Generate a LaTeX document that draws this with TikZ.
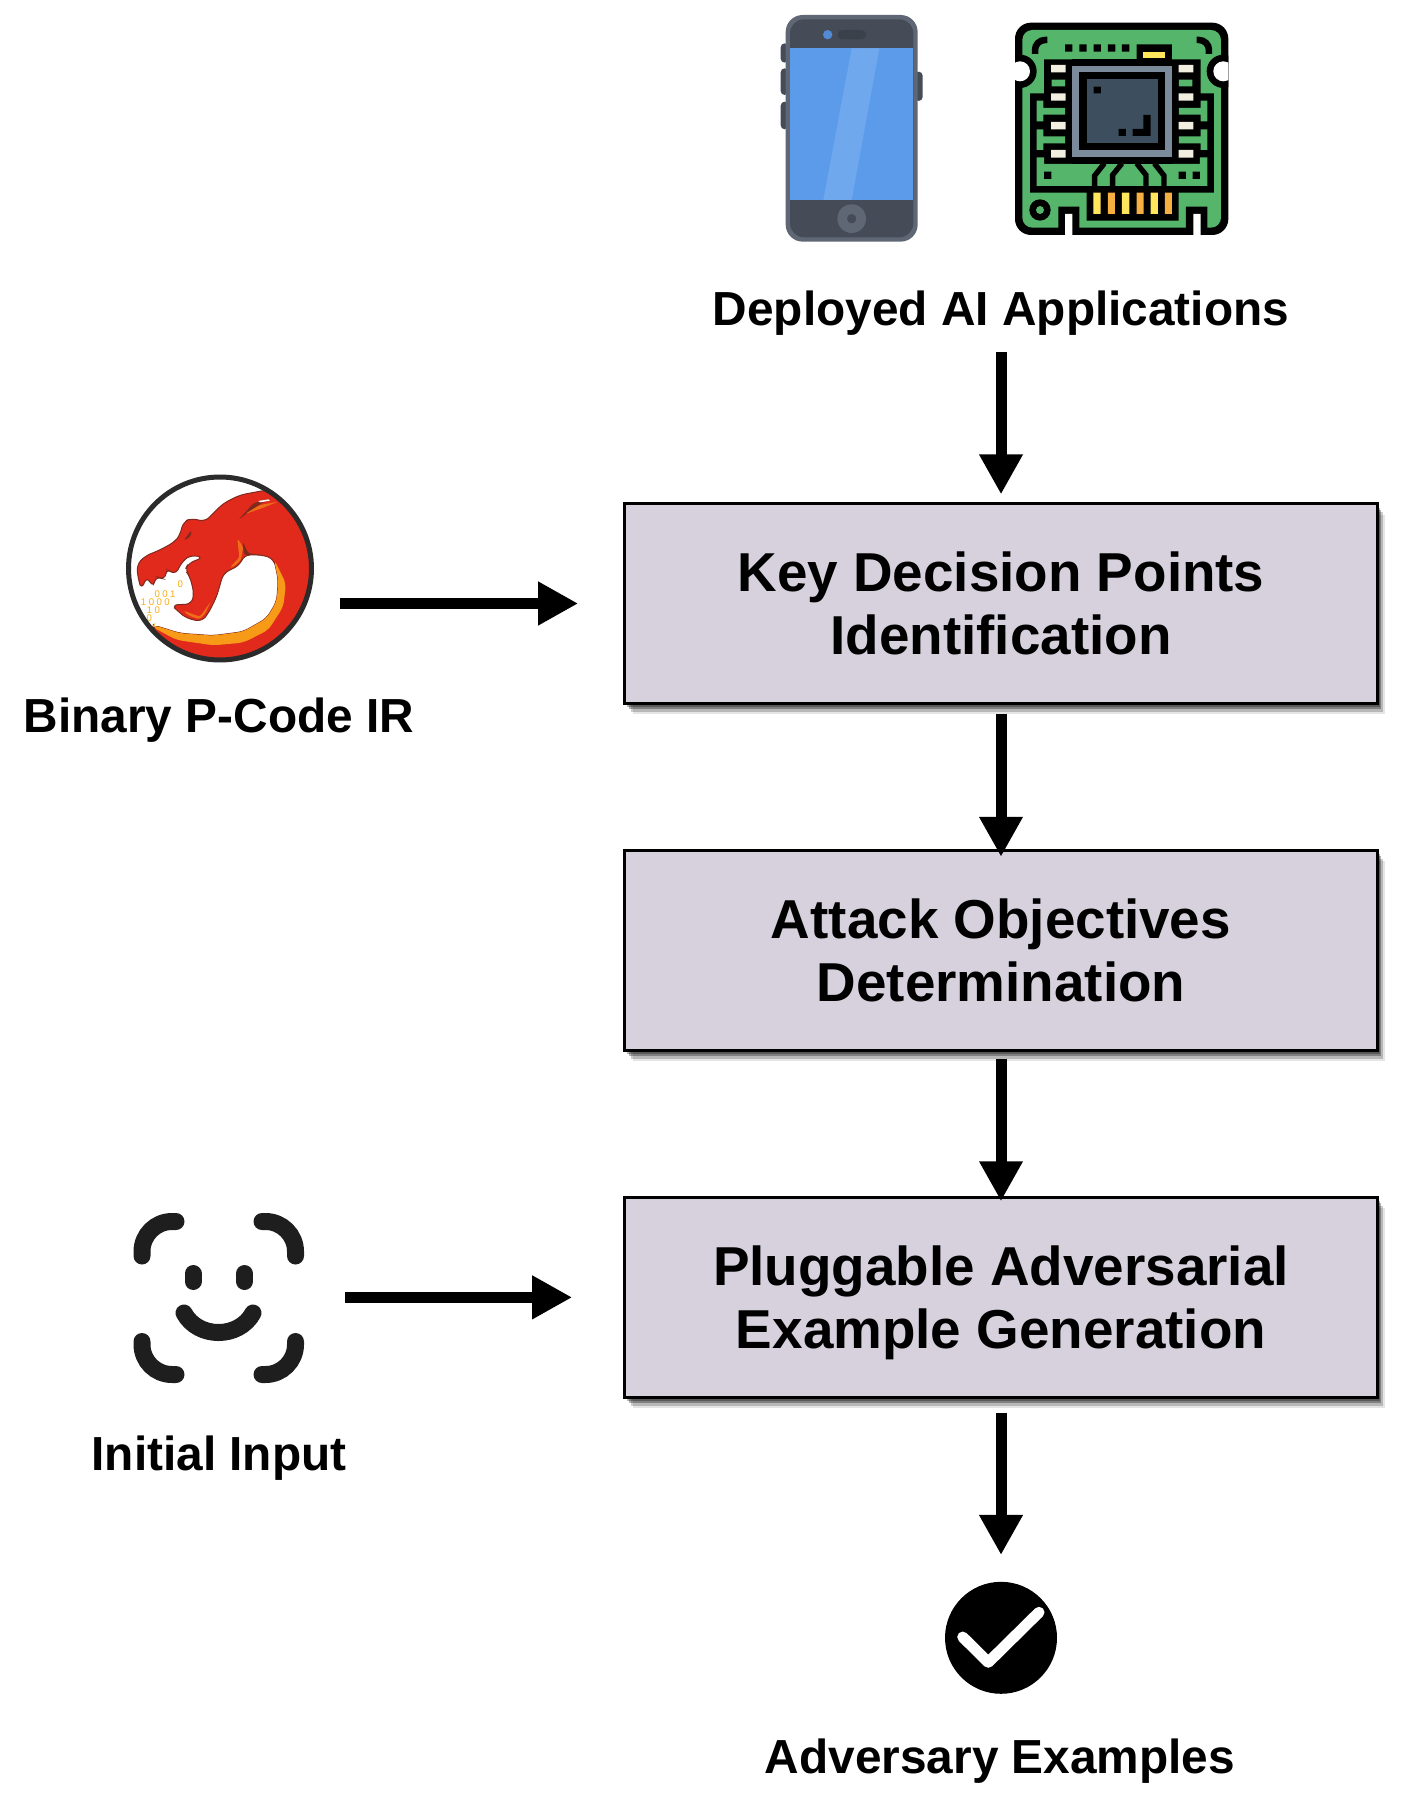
\documentclass[tikz,border=0pt]{standalone}
\usepackage{fontspec}
\setmainfont{Liberation Sans}
\usetikzlibrary{arrows.meta, shadows}
\definecolor{boxfill}{HTML}{D6D1DC}
\definecolor{phoneedge}{HTML}{5F6774}
\definecolor{phonedark}{HTML}{454C58}
\definecolor{phoneblue}{HTML}{5B9BEA}
\definecolor{phonelight}{HTML}{70A8EE}
\definecolor{chipgreen}{HTML}{55B56A}
\definecolor{chipslate}{HTML}{3D4F5F}
\definecolor{chipgrey}{HTML}{7C8B9C}
\definecolor{chippad}{HTML}{F2EFE0}
\definecolor{chipyellow}{HTML}{FFE65C}
\definecolor{chiporange}{HTML}{F5B041}
\definecolor{dragonred}{HTML}{E1291C}
\definecolor{dragonorange}{HTML}{F79A17}
\definecolor{dragondark}{HTML}{7E2A1C}
\definecolor{ringdark}{HTML}{2B2B2B}
\definecolor{facedark}{HTML}{1E1E1E}
\tikzstyle{process} = [rectangle, 
minimum width=15.05cm, 
minimum height=4cm,
inner sep=0pt,
align=center, 
text depth=0pt,
draw=black, 
line width=.066cm,
fill=boxfill,
font=\fontsize{31.2}{36}\selectfont\bfseries,
drop shadow={shadow xshift=.16cm, shadow yshift=-.22cm, opacity=.1, fill=black},
drop shadow={shadow xshift=.12cm, shadow yshift=-.17cm, opacity=.2, fill=black},
drop shadow={shadow xshift=.08cm, shadow yshift=-.12cm, opacity=.3, fill=black},
drop shadow={shadow xshift=.05cm, shadow yshift=-.08cm, opacity=.3, fill=black}]
\tikzstyle{tag} = [anchor=base, inner sep=0pt, font=\fontsize{27.2}{32}\selectfont\bfseries]
\tikzstyle{coord} = [coordinate]
\tikzstyle{arrow} = [line width=.22cm, -{Triangle[length=.8cm, width=.82cm]}]
\tikzstyle{ring} = [circle, minimum size=3.66cm, inner sep=0pt, draw=ringdark, line width=.1cm]
\tikzstyle{tick} = [circle, minimum size=2.24cm, inner sep=0pt, fill=black]
\tikzstyle{bits} = [inner sep=0pt, text=dragonorange!80!yellow, font=\fontsize{5.5}{6}\selectfont\addfontfeature{LetterSpace=25}]
\tikzstyle{face} = [line width=.34cm, line cap=round, draw=facedark, rounded corners=.6cm]
\begin{document}
\begin{tikzpicture}[x=0.02cm, y=-0.02cm, node distance=6.94cm]
	\useasboundingbox (0,0) rectangle (1416,1817);

	\begin{scope}[shift={(740,0)}, x=0.0066667cm, y=-0.0066667cm]
		\fill [phonedark, rounded corners=.08cm] (122,130) rectangle (145,188) (122,205) rectangle (145,285) (122,305) rectangle (145,388) (525,215) rectangle (548,303);
		\fill [phoneedge, rounded corners=.34cm] (137,45) rectangle (533,725);
		\fill [phonedark, rounded corners=.28cm] (150,58) rectangle (520,712);
		\fill [phoneblue] (150,145) rectangle (520,600);
		\fill [phonelight] (335,145) -- (418,145) -- (335,600) -- (250,600) -- cycle;
		\fill [phoneblue!90!black] (263,104) circle (14);
		\fill [black!15!phonedark, rounded corners=.09cm] (293,90) rectangle (378,118);
		\fill [phoneedge] (335,656) circle (43);
		\fill [phonedark] (335,656) circle (14);

		\fill [black, rounded corners=.32cm] (825,68) rectangle (1465,705);
		\fill [chipgreen, rounded corners=.2cm] (847,90) rectangle (1443,683);
		\begin{scope}
			\clip (825,68) rectangle (1465,705);
			\fill [black] (840,214) circle (50) (1450,214) circle (50);
			\fill [white] (840,214) circle (30) (1450,214) circle (30);
		\end{scope}
		\fill [black] (912,178) -- (1190,178) -- (1190,133) -- (1296,133) -- (1296,178) -- (1382,178) -- (1382,280) -- (1422,280) -- (1422,578) -- (1316,578) -- (1316,662) -- (1040,662) -- (1040,578) -- (870,578) -- (870,280) -- (912,280) -- cycle;
		\fill [chipgreen] (890,492) rectangle (1402,558) (890,472) rectangle (912,495) (1380,472) rectangle (1402,495);
		\fill [chipgreen] (890,324) rectangle (975,344) (890,302) rectangle (910,364) (890,409) rectangle (975,430) (890,388) rectangle (910,450) (935,239) rectangle (975,259);
		\fill [chipgreen] (1317,324) rectangle (1402,344) (1382,302) rectangle (1402,364) (1317,409) rectangle (1402,430) (1382,388) rectangle (1402,450) (1317,239) rectangle (1357,259);
		\fill [chippad] (933,195) rectangle (977,217) (933,280) rectangle (977,302) (933,366) rectangle (977,388) (933,450) rectangle (977,473);
		\fill [chippad] (1316,195) rectangle (1360,217) (1316,280) rectangle (1360,302) (1316,366) rectangle (1360,388) (1316,450) rectangle (1360,473);
		\fill [black] (997,178) rectangle (1296,492);
		\fill [chipgrey] (997,197) rectangle (1296,472);
		\fill [black] (1018,217) rectangle (1275,450);
		\fill [chipslate] (1040,238) rectangle (1253,428);
		\fill [black] (1061,260) rectangle (1083,280) (1136,387) rectangle (1158,408);
		\fill [black] (1210,345) -- (1232,345) -- (1232,408) -- (1178,408) -- (1178,387) -- (1210,387) -- cycle;
		\fill [black] (975,133) rectangle (997,155) (1018,133) rectangle (1040,155) (1061,133) rectangle (1083,155) (1104,133) rectangle (1126,155) (1146,133) rectangle (1168,155);
		\fill [chipyellow] (1210,155) rectangle (1275,175);
		\fill [black] (912,515) rectangle (934,537) (1316,515) rectangle (1338,537) (1358,515) rectangle (1380,537);
		\draw [line width=.107cm] (1093,490) -- (1064,527) -- (1064,560);
		\draw [line width=.107cm] (1146,490) -- (1118,525) -- (1118,560);
		\draw [line width=.107cm] (1190,490) -- (1218,525) -- (1218,560);
		\draw [line width=.107cm] (1243,490) -- (1272,527) -- (1272,560);
		\fill [chipyellow] (1060,578) rectangle (1082,642) (1146,578) rectangle (1168,642) (1232,578) rectangle (1254,642);
		\fill [chiporange] (1104,578) rectangle (1125,642) (1190,578) rectangle (1211,642) (1275,578) rectangle (1296,642);
		\fill [black] (955,620) rectangle (1018,690) (1338,620) rectangle (1402,690);
		\fill [white] (975,642) rectangle (997,706) (1360,642) rectangle (1382,706);
		\fill [black] (900,630) circle (32);
		\fill [chipgreen] (900,630) circle (12);
		\draw [line width=.13cm, rounded corners=.2cm] (885,162) -- (885,120) -- (922,120);
		\draw [line width=.13cm, rounded corners=.2cm] (1407,162) -- (1407,120) -- (1370,120);
	\end{scope}

	\begin{scope}[shift={(120,470)}, x=0.0066667cm, y=-0.0066667cm]
		\begin{scope}
			\clip (300,295) circle (272);
			\fill [dragonred, draw=dragondark, line width=.02cm, rounded corners=.12cm] (440,60) -- (360,75) -- (310,100) -- (255,155) -- (215,145) -- (190,155) -- (180,195) -- (165,215) -- (120,240) -- (75,258) -- (50,285) -- (55,330) -- (65,358) -- (80,320) -- (100,352) -- (108,318) -- (135,330) -- (140,295) -- (165,315) -- (190,270) -- (215,255) -- (250,262) -- (205,280) -- (195,300) -- (210,320) -- (222,370) -- (215,402) -- (155,405) -- (175,425) -- (200,445) -- (245,455) -- (265,430) -- (290,380) -- (310,310) -- (360,285) -- (372,255) -- (430,255) -- (462,268) -- (475,330) -- (470,395) -- (440,445) -- (370,485) -- (280,497) -- (180,490) -- (100,465) -- (100,480) -- (120,540) -- (200,620) -- (400,620) -- (620,400) -- (620,100) -- cycle;
			\fill [dragonorange, rounded corners=.12cm] (462,268) -- (475,330) -- (470,395) -- (440,445) -- (370,485) -- (280,497) -- (180,490) -- (100,465) -- (95,470) -- (170,510) -- (280,526) -- (370,518) -- (445,480) -- (490,410) -- (498,340) -- cycle;
			\fill [dragonorange!60!dragonred, rounded corners=.05cm] (330,292) -- (358,262) -- (352,205) -- (370,232) -- (362,272) -- (338,292) -- cycle;
			\fill [dragonorange!60!dragonred, rounded corners=.05cm] (190,422) -- (240,440) -- (272,395) -- (255,432) -- (238,448) -- (205,436) -- cycle;
			\fill [dragondark, rounded corners=.05cm] (355,150) -- (400,100) -- (450,85) -- (400,115) -- cycle;
			\fill [dragonorange!60!dragonred, rounded corners=.05cm] (375,132) -- (420,105) -- (475,95) -- (425,115) -- cycle;
			\fill [white] (415,93) -- (445,88) -- (450,92) -- (420,97) -- cycle;
			\fill [dragondark, rounded corners=.05cm] (190,212) -- (215,180) -- (212,200) -- cycle;
			\fill [dragondark, rounded corners=.05cm] (372,255) -- (368,215) -- (385,250) -- (430,255) -- cycle;
		\end{scope}
		\node (b1) [bits] at (181,343) {0};
		\node (b2) [bits] at (135,372) {001};
		\node (b3) [bits] at (106,398) {1000};
		\node (b4) [bits] at (100,422) {10};
		\node (b5) [bits] at (88,445) {0};
	\end{scope}
	\node (dragon) [ring] at (220,568.5) {};

	\draw [face] (142,1256) -- (142,1221.5) -- (176,1221.5);
	\draw [face] (262,1221.5) -- (295.5,1221.5) -- (295.5,1256);
	\draw [face] (142,1341.5) -- (142,1374.5) -- (176,1374.5);
	\draw [face] (262,1374.5) -- (295.5,1374.5) -- (295.5,1341.5);
	\draw [face] (193,1273.5) -- (193,1281.5);
	\draw [face] (244.5,1273.5) -- (244.5,1281.5);
	\draw [face] (184,1313) .. controls (198,1339) and (239,1339) .. (253,1313);

	\node (apps) [tag] at (1001,326) {Deployed AI Applications};
	\node (ghidra) [tag] at (219,732) {Binary P-Code IR};
	\node (input) [tag] at (219,1470) {Initial Input};

	\node (box1) [process] at (1001,603.5) {Key Decision Points\\Identification};
	\node (box2) [process, below of=box1] {Attack Objectives\\Determination};
	\node (box3) [process, below of=box2] {Pluggable Adversarial\\Example Generation};
	\node (done) [tick, below of=box3, node distance=6.81cm] {};
	\node (result) [tag] at (1000,1773) {Adversary Examples};
	\draw [white, line width=.22cm, line cap=round, line join=round] (962.7,1637) -- (988.3,1662.3) -- (1039,1612.3);

	\node (c1) [coord, left of=box1, node distance=13.22cm] {};
	\node (c2) [coord, left of=box3, node distance=13.12cm] {};

	\draw [arrow, shorten <=.31cm, shorten >=.15cm] (apps.south) -- (box1.north);
	\draw [arrow, shorten <=.17cm, shorten >=-.16cm] (box1.south) -- (box2.north);
	\draw [arrow, shorten <=.14cm, shorten >=-.11cm] (box2.south) -- (box3.north);
	\draw [arrow, shorten <=.27cm, shorten >=.53cm] (box3.south) -- (done.north);
	\draw [arrow, shorten >=.9cm] (c1) -- (box1.west);
	\draw [arrow, shorten >=1.02cm] (c2) -- (box3.west);
\end{tikzpicture}
\end{document}
